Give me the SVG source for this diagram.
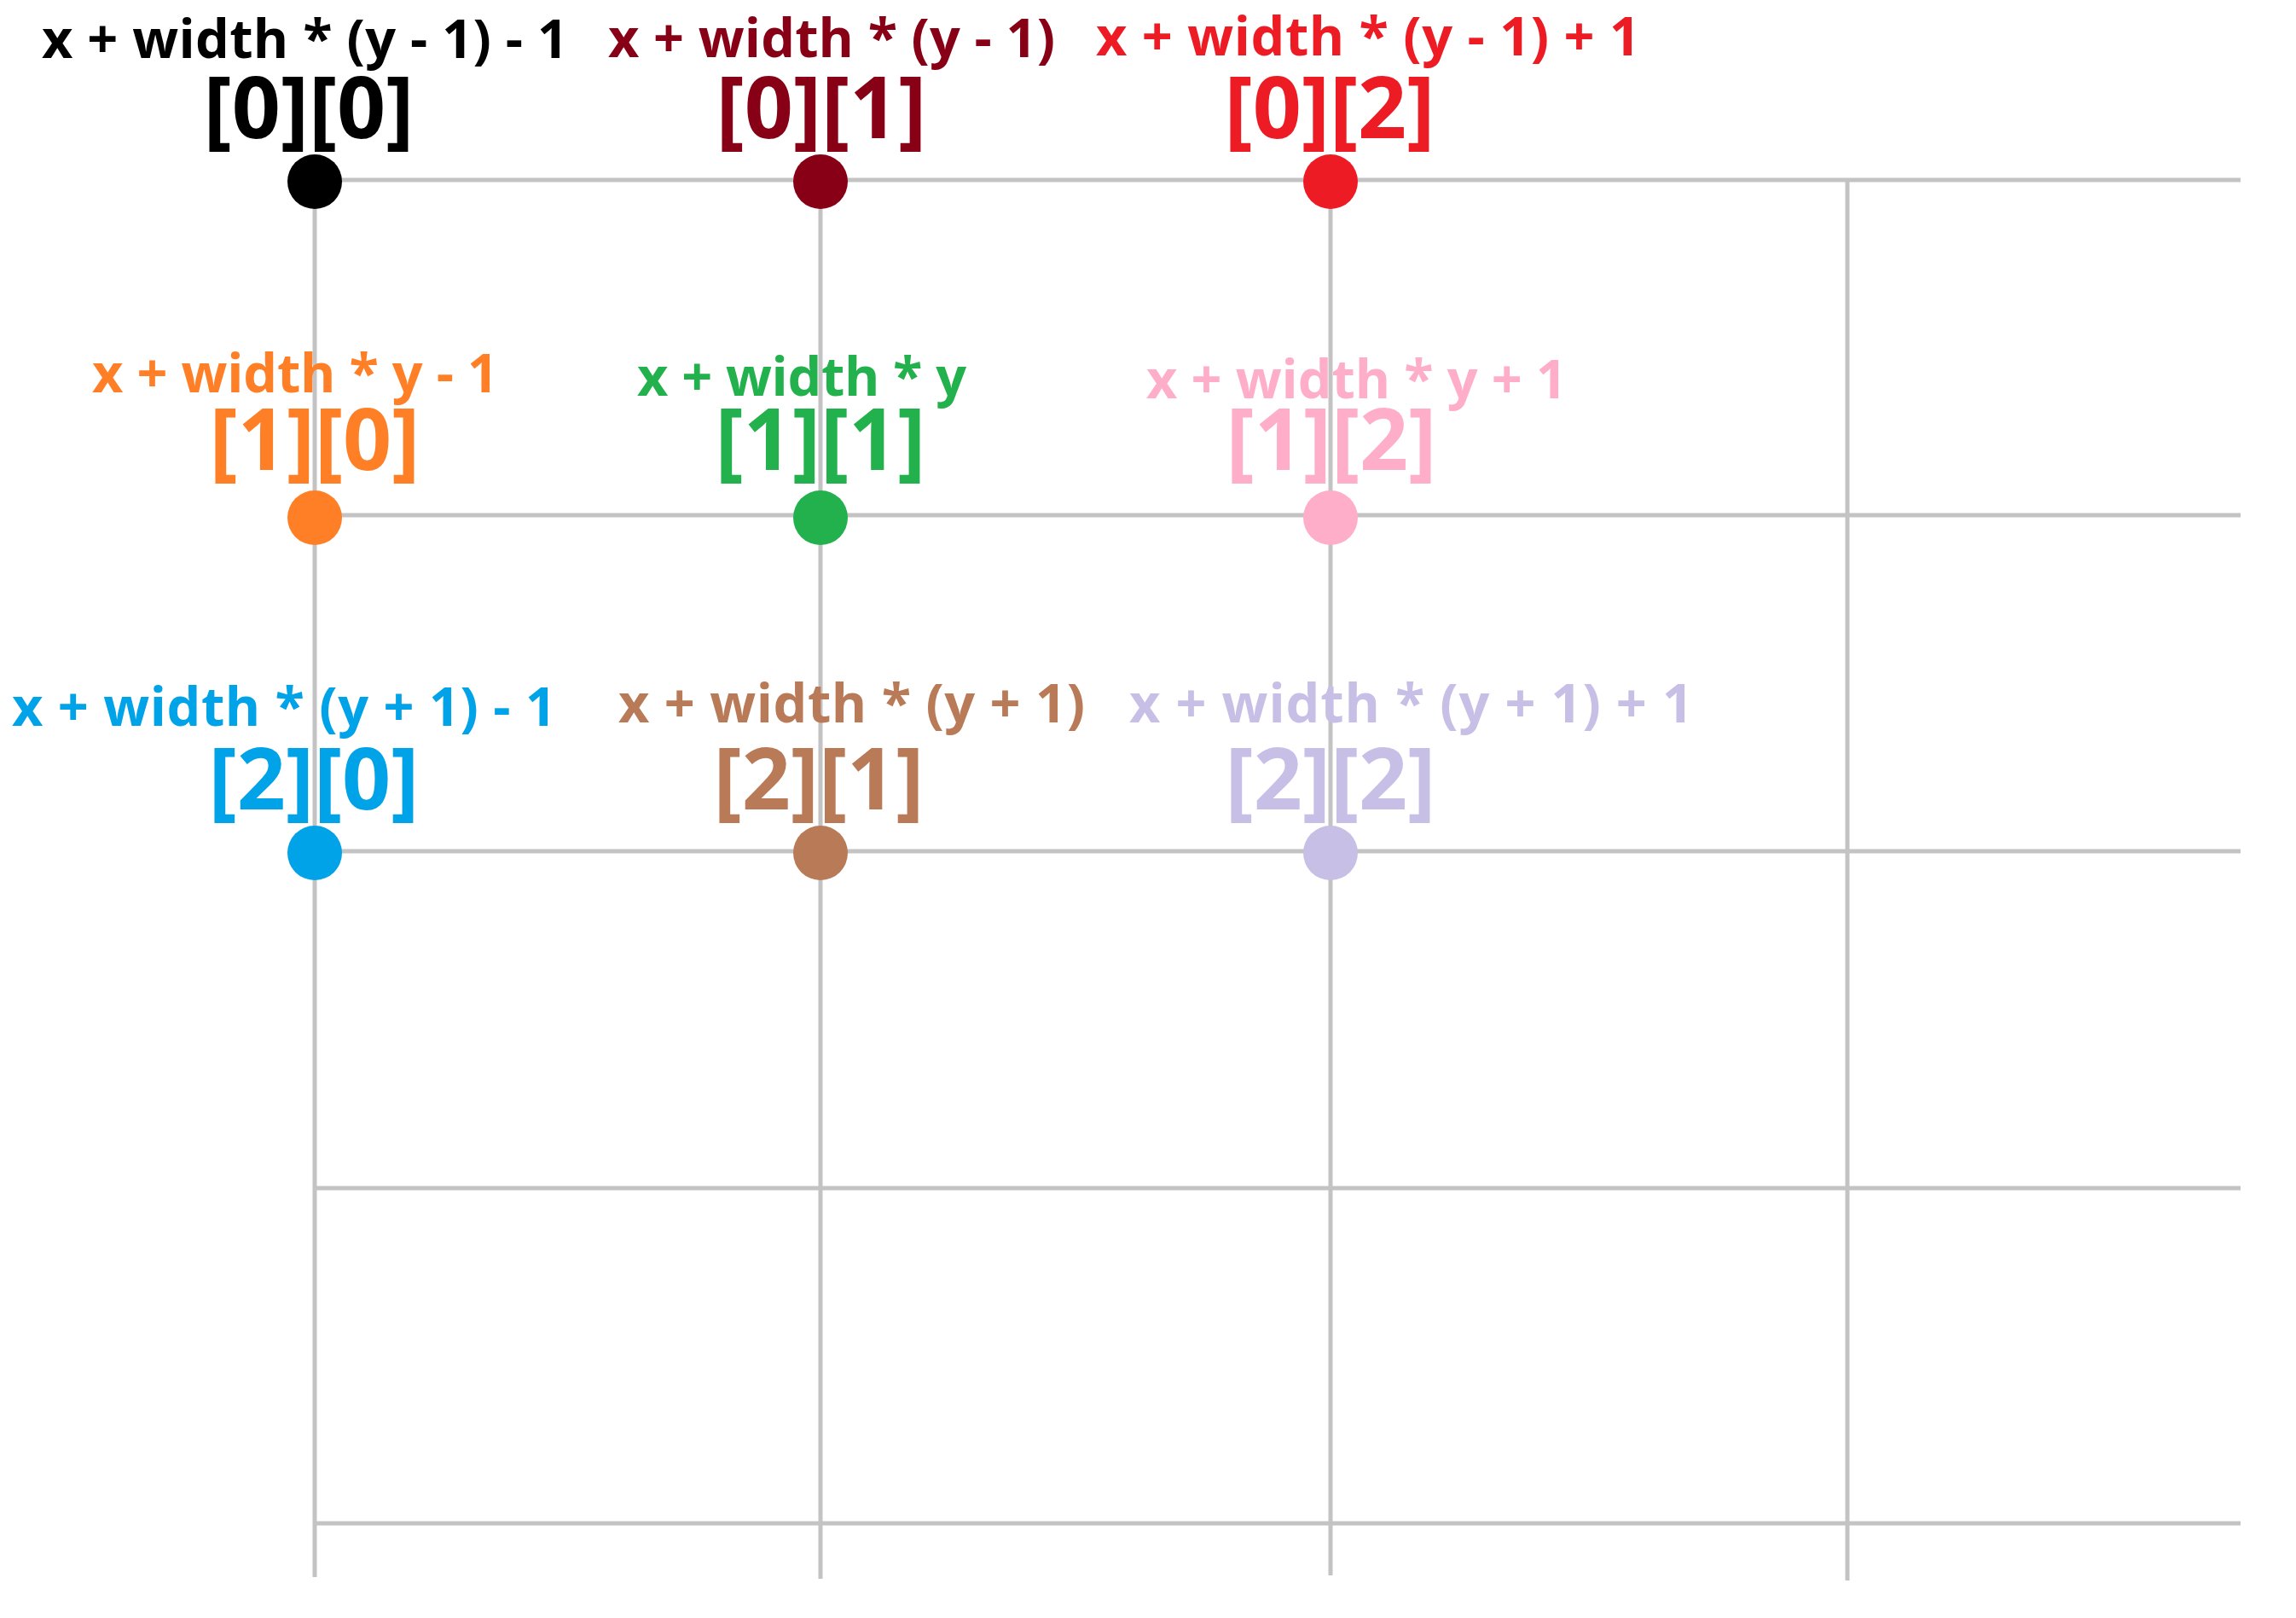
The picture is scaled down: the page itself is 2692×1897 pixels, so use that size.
<svg xmlns="http://www.w3.org/2000/svg" width="2692" height="1897" viewBox="0 0 2692 1897">
<style>
.bg{fill:#ffffff}
.grid line{stroke:#C3C3C3;stroke-width:5;fill:none}
.f{font-family:"Open Sans","Noto Sans","Liberation Sans",sans-serif;font-weight:700}
.s{font-size:63px}
.b{font-size:100px;text-anchor:middle}
.c0{fill:#000000}.c1{fill:#880015}.c2{fill:#ED1C24}
.c3{fill:#FF7F27}.c4{fill:#22B14C}.c5{fill:#FFAEC9}
.c6{fill:#00A2E8}.c7{fill:#B97A57}.c8{fill:#C8BFE7}
</style>
<rect class="bg" x="0" y="0" width="2692" height="1897"/>
<g id="connectors" class="grid">
<line x1="369" y1="211" x2="2627" y2="211"/>
<line x1="369" y1="604" x2="2627" y2="604"/>
<line x1="369" y1="998" x2="2627" y2="998"/>
<line x1="369" y1="1393" x2="2627" y2="1393"/>
<line x1="369" y1="1786" x2="2627" y2="1786"/>
<line x1="369" y1="213" x2="369" y2="1849"/>
<line x1="962" y1="213" x2="962" y2="1851"/>
<line x1="1560" y1="213" x2="1560" y2="1847"/>
<line x1="2166" y1="209" x2="2166" y2="1853"/>
</g>
<g id="n00" class="f c0">
<circle cx="369" cy="213" r="32"/>
<text class="s" x="49" y="68" textLength="617" lengthAdjust="spacing">x + width * (y - 1) - 1</text>
<text class="b" x="362" y="162">[0][0]</text>
</g>
<g id="n01" class="f c1">
<circle cx="962" cy="213" r="32"/>
<text class="s" x="713" y="67" textLength="524" lengthAdjust="spacing">x + width * (y - 1)</text>
<text class="b" x="963" y="162">[0][1]</text>
</g>
<g id="n02" class="f c2">
<circle cx="1560" cy="213" r="32"/>
<text class="s" x="1285" y="65" textLength="638" lengthAdjust="spacing">x + width * (y - 1) + 1</text>
<text class="b" x="1559" y="162">[0][2]</text>
</g>
<g id="n10" class="f c3">
<circle cx="369" cy="607" r="32"/>
<text class="s" x="108" y="460" textLength="476" lengthAdjust="spacing">x + width * y - 1</text>
<text class="b" x="369" y="551">[1][0]</text>
</g>
<g id="n11" class="f c4">
<circle cx="962" cy="607" r="32"/>
<text class="s" x="747" y="464" textLength="386" lengthAdjust="spacing">x + width * y</text>
<text class="b" x="962" y="551">[1][1]</text>
</g>
<g id="n12" class="f c5">
<circle cx="1560" cy="607" r="32"/>
<text class="s" x="1344" y="467" textLength="493" lengthAdjust="spacing">x + width * y + 1</text>
<text class="b" x="1561" y="551">[1][2]</text>
</g>
<g id="n20" class="f c6">
<circle cx="369" cy="1000" r="32"/>
<text class="s" x="14" y="851" textLength="638" lengthAdjust="spacing">x + width * (y + 1) - 1</text>
<text class="b" x="368" y="949">[2][0]</text>
</g>
<g id="n21" class="f c7">
<circle cx="962" cy="1000" r="32"/>
<text class="s" x="725" y="847" textLength="547" lengthAdjust="spacing">x + width * (y + 1)</text>
<text class="b" x="960" y="949">[2][1]</text>
</g>
<g id="n22" class="f c8">
<circle cx="1560" cy="1000" r="32"/>
<text class="s" x="1324" y="847" textLength="661" lengthAdjust="spacing">x + width * (y + 1) + 1</text>
<text class="b" x="1560" y="949">[2][2]</text>
</g>
</svg>
